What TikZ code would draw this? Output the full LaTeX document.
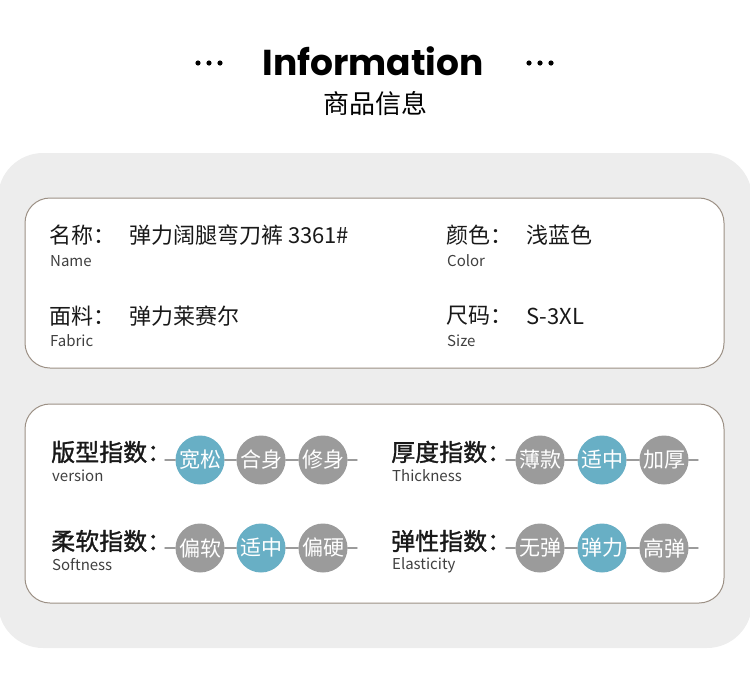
\documentclass[tikz,border=0pt]{standalone}
\usepackage{fontspec}
\newfontfamily\cjk{Noto Sans CJK SC}
\newfontfamily\cjkm[FakeBold=1.2]{Noto Sans CJK SC}
\newfontfamily\popp{Poppins}
\definecolor{xanh}{HTML}{68AFC5}
\definecolor{xam}{HTML}{9B9B9B}
\definecolor{nen}{HTML}{EDEDED}
\definecolor{vien}{HTML}{9C9085}
\tikzset{
 tron/.style={circle,minimum size=49,inner sep=0,text=white,font=\cjk\fontsize{21}{21}\selectfont},
 chon/.style={tron,fill=xanh},
 khong/.style={tron,fill=xam},
 duong/.style={xam,line width=1.4},
 nhan/.style={anchor=west,inner sep=0,text=black!90,font=\cjk\fontsize{22}{22}\selectfont},
 chiso/.style={anchor=west,inner sep=0,text=black!90,font=\cjkm\fontsize{24}{24}\selectfont},
 phu/.style={anchor=west,inner sep=0,text=black!75,font=\cjk\fontsize{15}{15}\selectfont},
 the/.style={draw=vien,fill=white,line width=1,rounded corners=25}
}
\begin{document}
\begin{tikzpicture}[x=1pt,y=-1pt,line join=round,line cap=round]
 \useasboundingbox (0,0) rectangle (750,675);
 % nen xam va hai the
 \fill[nen,rounded corners=45] (-2,153) rectangle (752,648);
 \draw[the] (25,198) rectangle (724,368);
 \draw[the] (25,404) rectangle (724,603);
 % tieu de
 \node[inner sep=0,font=\popp\bfseries\fontsize{36}{36}\selectfont] (tieude) at (373,61) {Information};
 \foreach \x in {198,209,220,529,540,551} \fill (\x,63) circle (2.6);
 \node[inner sep=0,font=\cjk\fontsize{26}{26}\selectfont] (phude) at (375,104) {商品信息};
 % the 1
 \node[nhan] (ten) at (49,235) {名称：};
 \node[nhan] (tenG) at (129,235) {弹力阔腿弯刀裤 3361\#};
 \node[phu] (tenE) at (50,261) {Name};
 \node[nhan] (mau) at (446,235) {颜色：};
 \node[nhan] (mauG) at (526,235) {浅蓝色};
 \node[phu] (mauE) at (447,261) {Color};
 \node[nhan] (vai) at (49,316) {面料：};
 \node[nhan] (vaiG) at (129,316) {弹力莱赛尔};
 \node[phu] (vaiE) at (50,341) {Fabric};
 \node[nhan] (co) at (446,316) {尺码：};
 \node[nhan] (coG) at (526,316) {S-3XL};
 \node[phu] (coE) at (447,341) {Size};
 % the 2
 \node[chiso] (kieu) at (51,452) {版型指数：};
 \node[phu] (kieuE) at (52,476) {version};
 \node[chiso] (mem) at (51,541) {柔软指数：};
 \node[phu] (memE) at (52,565) {Softness};
 \node[chiso] (day) at (391,452) {厚度指数：};
 \node[phu] (dayE) at (392,476) {Thickness};
 \node[chiso] (dan) at (391,541) {弹性指数：};
 \node[phu] (danE) at (392,565) {Elasticity};
 % cac vong tron
 \foreach \t/\x/\s [count=\i] in {宽松/200/chon,合身/261/khong,修身/323/khong}
  \node[\s] (a\i) at (\x,460) {\t};
 \foreach \t/\x/\s [count=\i] in {偏软/200/khong,适中/261/chon,偏硬/323/khong}
  \node[\s] (b\i) at (\x,548) {\t};
 \foreach \t/\x/\s [count=\i] in {薄款/540/khong,适中/602/chon,加厚/664/khong}
  \node[\s] (c\i) at (\x,460) {\t};
 \foreach \t/\x/\s [count=\i] in {无弹/540/khong,弹力/602/chon,高弹/664/khong}
  \node[\s] (d\i) at (\x,548) {\t};
 \coordinate (aL) at (165,460); \coordinate (aR) at (357,460);
 \coordinate (bL) at (165,548); \coordinate (bR) at (357,548);
 \coordinate (cL) at (506,460); \coordinate (cR) at (698,460);
 \coordinate (dL) at (506,548); \coordinate (dR) at (698,548);
 \foreach \r in {a,b,c,d}
  \draw[duong] (\r L) -- (\r1) -- (\r2) -- (\r3) -- (\r R);
\end{tikzpicture}
\end{document}
